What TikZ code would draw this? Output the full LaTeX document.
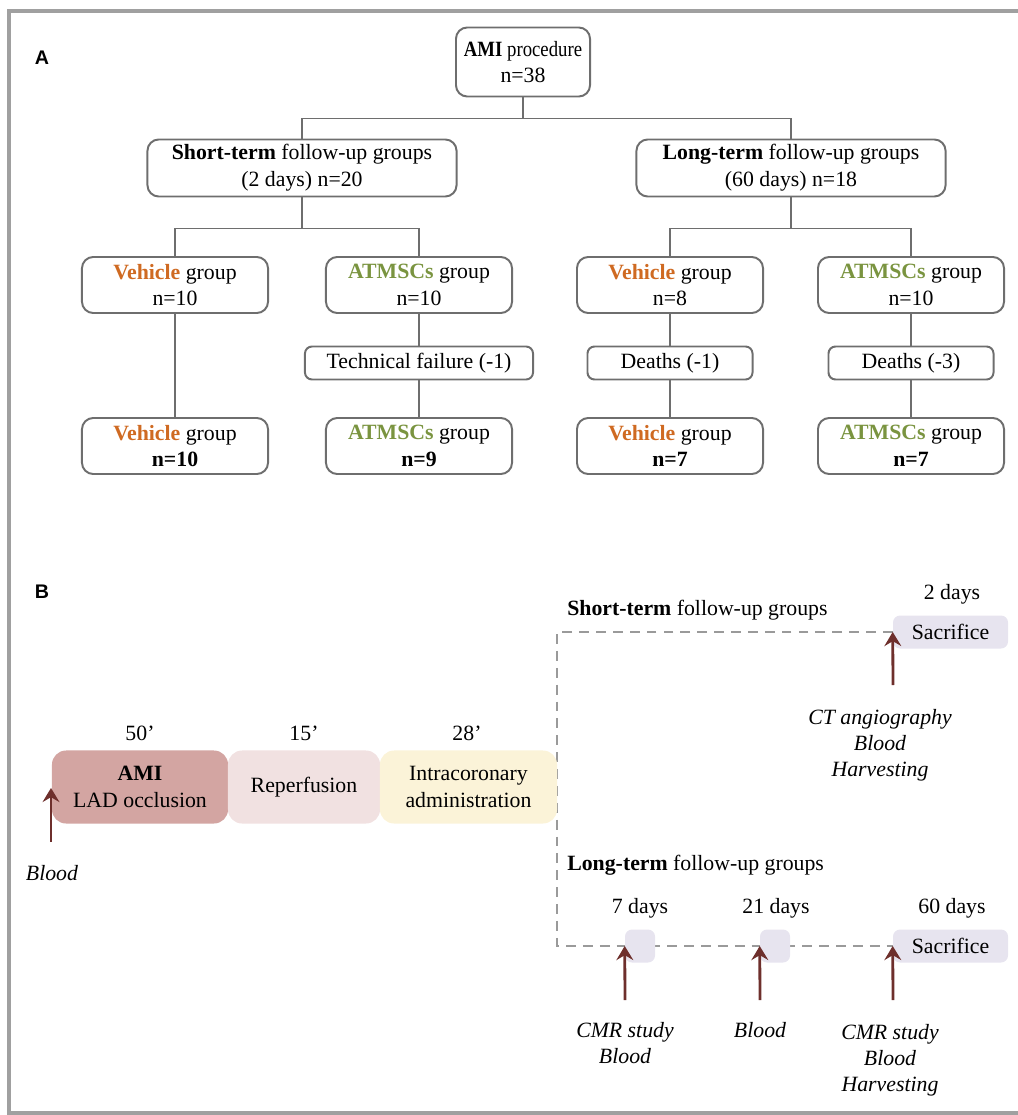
\documentclass[tikz,border=0pt]{standalone}
\usepackage{fontspec}
\setmainfont{Liberation Serif}
\newfontfamily\panelfont{Liberation Sans}
\usepackage{tikz}
\usetikzlibrary{arrows.meta,backgrounds}

\definecolor{boxgray}{HTML}{6E6E6E}
\definecolor{framegray}{HTML}{A0A0A0}
\definecolor{dashgray}{HTML}{9A9A9A}
\definecolor{vehcol}{HTML}{CF6A22}
\definecolor{atmcol}{HTML}{7A9440}
\definecolor{amifill}{HTML}{D3A5A2}
\definecolor{repfill}{HTML}{F1E1E1}
\definecolor{intrafill}{HTML}{FBF3D8}
\definecolor{sacfill}{HTML}{E7E4EF}
\definecolor{arrowcol}{HTML}{6E2F2C}

\newcommand{\veh}{{\color{vehcol}\textbf{Vehicle}}}
\newcommand{\atm}{{\color{atmcol}\textbf{ATMSCs}}}

\tikzset{
  txt/.style={font=\fontsize{15.5}{19}\selectfont, align=center, inner sep=0pt},
  flowbox/.style={txt, draw=boxgray, line width=1.4pt, rounded corners=8pt},
  groupbox/.style={flowbox, minimum width=4.65cm, minimum height=1.4cm},
  lossbox/.style={flowbox, rounded corners=5pt, minimum height=0.825cm},
  link/.style={draw=boxgray, line width=1.4pt},
  phase/.style={txt, rounded corners=10pt, minimum height=1.825cm},
  daybox/.style={txt, fill=sacfill, rounded corners=5pt, minimum height=0.825cm},
  tline/.style={draw=dashgray, line width=1.4pt, dash pattern=on 7pt off 5pt},
  sample/.style={draw=arrowcol, line width=2pt, -{Stealth[length=10pt,width=12pt,inset=3.5pt]}},
  sampletxt/.style={txt, font=\fontsize{15.5}{18.5}\selectfont\itshape},
  panel/.style={font=\panelfont\bfseries\fontsize{14}{16}\selectfont, inner sep=0pt}
}

\begin{document}
\begin{tikzpicture}[x=0.025cm, y=-0.025cm]
\useasboundingbox (0,0) rectangle (1017,1115);
% frame
\draw[framegray, line width=2.5pt] (1030,11) -- (9,11) -- (9,1113) -- (1030,1113);

% panel A
\node[panel] (labA) at (42,58) {A};
\node[flowbox, minimum width=3.35cm, minimum height=1.725cm] (ami) at (523,62) {\scalebox{0.86}[1]{\textbf{AMI} procedure}\\n=38};
\node[flowbox, minimum width=7.725cm, minimum height=1.425cm] (short) at (302,168) {\textbf{Short-term} follow-up groups\\(2 days) n=20};
\node[flowbox, minimum width=7.725cm, minimum height=1.425cm] (long) at (791,168) {\textbf{Long-term} follow-up groups\\(60 days) n=18};

\node[groupbox] (vehS) at (175,285) {\veh{} group\\n=10};
\node[groupbox] (atmS) at (419,285) {\atm{} group\\n=10};
\node[groupbox] (vehL) at (670,285) {\veh{} group\\n=8};
\node[groupbox] (atmL) at (911,285) {\atm{} group\\n=10};

\node[lossbox, minimum width=5.7cm] (failS) at (419,363) {Technical failure (-1)};
\node[lossbox, minimum width=4.125cm] (deathV) at (670,363) {Deaths (-1)};
\node[lossbox, minimum width=4.125cm] (deathA) at (911,363) {Deaths (-3)};

\node[groupbox] (vehSend) at (175,446) {\veh{} group\\\textbf{n=10}};
\node[groupbox] (atmSend) at (419,446) {\atm{} group\\\textbf{n=9}};
\node[groupbox] (vehLend) at (670,446) {\veh{} group\\\textbf{n=7}};
\node[groupbox] (atmLend) at (911,446) {\atm{} group\\\textbf{n=7}};

\draw[link] (ami.south) -- ++(0,21) -| (short.north);
\draw[link] (ami.south) -- ++(0,21) -| (long.north);
\draw[link] (short.south) -- ++(0,31) -| (vehS.north);
\draw[link] (short.south) -- ++(0,31) -| (atmS.north);
\draw[link] (long.south) -- ++(0,31) -| (vehL.north);
\draw[link] (long.south) -- ++(0,31) -| (atmL.north);
\draw[link] (vehS) -- (vehSend);
\draw[link] (atmS) -- (failS) -- (atmSend);
\draw[link] (vehL) -- (deathV) -- (vehLend);
\draw[link] (atmL) -- (deathA) -- (atmLend);

% panel B
\node[panel] (labB) at (42,592) {B};
\node[phase, fill=amifill, minimum width=4.4cm] (occl) at (140,787) {\textbf{AMI}\\LAD occlusion};
\node[phase, fill=repfill, minimum width=3.8cm] (reper) at (304,787) {Reperfusion};
\node[phase, fill=intrafill, minimum width=4.425cm] (intra) at (468.5,787) {Intracoronary\\administration};
\node[txt] (t50) at (140,733) {50’};
\node[txt] (t15) at (304,733) {15’};
\node[txt] (t28) at (467,733) {28’};

\node[txt, anchor=west] (shortlab) at (567,610) {\textbf{Short-term} follow-up groups};
\node[txt, anchor=west] (longlab) at (567,865) {\textbf{Long-term} follow-up groups};
\node[daybox, minimum width=2.875cm] (sacS) at (950.5,632) {Sacrifice};
\node[daybox, minimum width=0.75cm] (d7) at (640,946) {};
\node[daybox, minimum width=0.75cm] (d21) at (775,946) {};
\node[daybox, minimum width=2.875cm] (sacL) at (950.5,946) {Sacrifice};
\node[txt] (t2d) at (952,594) {2 days};
\node[txt] (t7d) at (640,908) {7 days};
\node[txt] (t21d) at (776,908) {21 days};
\node[txt] (t60d) at (952,908) {60 days};

\begin{scope}[on background layer]
\draw[tline] (sacS.west) -| (d7.west -| intra.east) -- (sacL.west);
\end{scope}

% sampling
\coordinate (bloodtip) at (51,788);
\coordinate (bloodbase) at (51,842);
\coordinate (sbaseS) at (893,685);
\coordinate (sbase7) at (625,1000);
\coordinate (sbase21) at (760,1000);
\coordinate (sbase60) at (893,1000);
\draw[sample] (bloodbase) -- (bloodtip);
\draw[sample] (sbaseS) -- (sacS.west);
\draw[sample] (sbase7) -- (d7.west);
\draw[sample] (sbase21) -- (d21.west);
\draw[sample] (sbase60) -- (sacL.west);

\node[sampletxt] (s0) at (52,873) {Blood};
\node[sampletxt] (sS) at (880,745) {CT angiography\\Blood\\Harvesting};
\node[sampletxt] (s7) at (625,1043) {CMR study\\Blood};
\node[sampletxt] (s21) at (760,1030) {Blood};
\node[sampletxt] (s60) at (890,1060) {CMR study\\Blood\\Harvesting};
\end{tikzpicture}
\end{document}
